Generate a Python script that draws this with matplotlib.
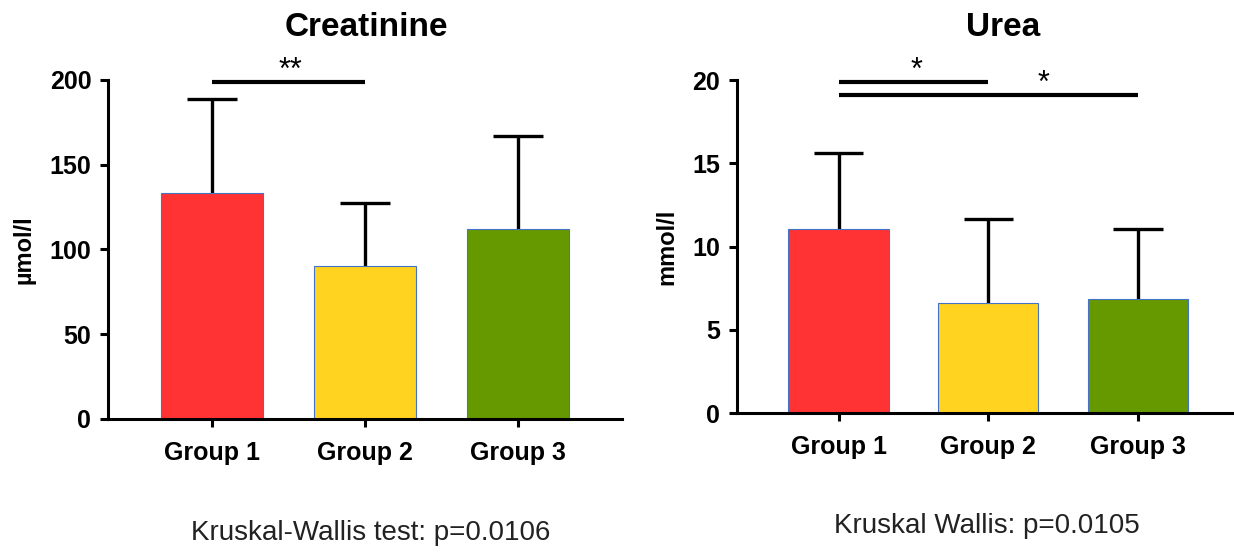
import matplotlib.pyplot as plt

plt.rcParams['font.family'] = ['Liberation Sans', 'DejaVu Sans']

groups = ["Group 1", "Group 2", "Group 3"]
colors = ["#FF3333", "#FFD320", "#669900"]

creat_mean = [133.5, 90, 112]
creat_sd = [55, 37.5, 55]

urea_mean = [11.05, 6.6, 6.85]
urea_sd = [4.55, 5.05, 4.2]

# significance bars: (start group, end group, y, label x, label)
creat_sig = [(0, 1, 198.8, 0.51, "**")]
urea_sig = [(0, 1, 19.9, 0.52, "*"), (0, 2, 19.1, 1.37, "*")]


def draw(ax, means, sds, ylim, yticks, ylabel, sig, xmax):
    x = list(range(len(groups)))
    tops = [m + s for m, s in zip(means, sds)]
    ax.vlines(x, means, tops, color="black", lw=2.4, zorder=1)
    ax.hlines(tops, [i - 0.165 for i in x], [i + 0.165 for i in x],
              color="black", lw=2.4, zorder=1)
    ax.bar(x, means, width=0.67, color=colors, edgecolor="#4472C4",
           linewidth=0.8, zorder=2)
    ax.set_xlim(-0.68, xmax)
    ax.set_ylim(*ylim)
    ax.set_yticks(yticks)
    ax.set_xticks(x)
    ax.set_xticklabels(groups, fontsize=18, fontweight="bold")
    for lab in ax.get_yticklabels():
        lab.set_fontweight("bold")
        lab.set_fontsize(18)
    ax.set_ylabel(ylabel, fontsize=17, fontweight="bold", labelpad=10)
    ax.spines["top"].set_visible(False)
    ax.spines["right"].set_visible(False)
    ax.spines["left"].set_linewidth(2.2)
    ax.spines["bottom"].set_linewidth(2.2)
    ax.tick_params(width=2.2, length=6, pad=6)
    ax.tick_params(axis="x", pad=10)
    for a, b, y, lx, lab in sig:
        ax.plot([a, b], [y, y], color="black", lw=3, clip_on=False,
                solid_capstyle="butt")
        ax.text(lx, y - (ylim[1] - ylim[0]) * 0.012, lab,
                ha="center", va="bottom", fontsize=22)


fig = plt.figure(figsize=(12.34, 5.54), dpi=100)
ax1 = fig.add_axes([0.0875, 0.2437, 0.4165, 0.612])
ax2 = fig.add_axes([0.597, 0.2545, 0.404, 0.601])

draw(ax1, creat_mean, creat_sd, (0, 200), [0, 50, 100, 150, 200],
     "µmol/l", creat_sig, 2.68)
draw(ax2, urea_mean, urea_sd, (0, 20), [0, 5, 10, 15, 20],
     "mmol/l", urea_sig, 2.65)

fig.text(0.297, 0.95, "Creatinine", ha="center", va="center",
         fontsize=24, fontweight="bold")
fig.text(0.813, 0.95, "Urea", ha="center", va="center",
         fontsize=24, fontweight="bold")
fig.text(0.3, 0.038, "Kruskal-Wallis test: p=0.0106", ha="center",
         va="center", fontsize=20, color="#222222")
fig.text(0.8, 0.05, "Kruskal Wallis: p=0.0105", ha="center",
         va="center", fontsize=20, color="#222222")

fig.savefig("out.png", dpi=100)
